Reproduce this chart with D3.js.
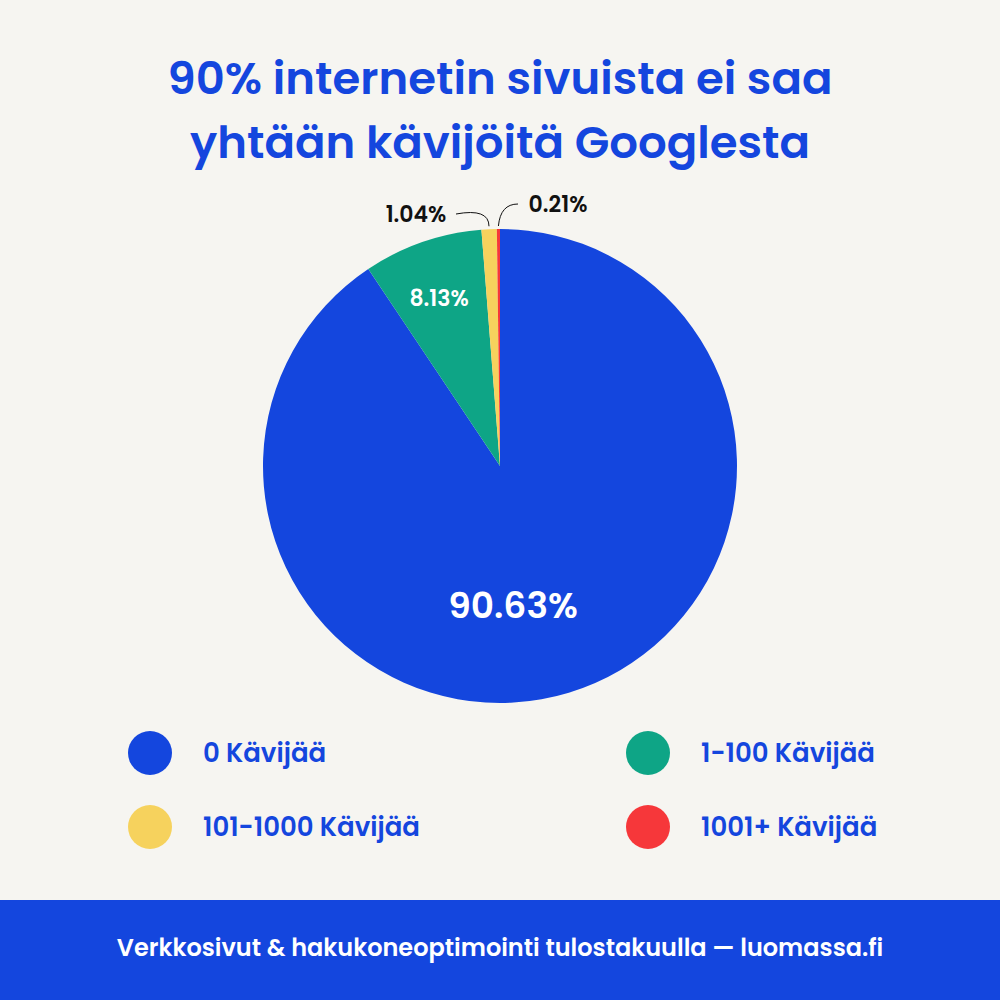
<!DOCTYPE html><html><head><meta charset="utf-8"><script src="https://d3js.org/d3.v7.min.js"></script>
<style>body{margin:0;background:#f6f5f1}</style></head><body><svg id="c" width="1000" height="1000"></svg>
<script>
const categories=["0 Kävijää","1-100 Kävijää","101-1000 Kävijää","1001+ Kävijää"];
const values=[90.63,8.13,1.04,0.21];
const labels=["90.63%","8.13%","1.04%","0.21%"];
const colors=["#1446de","#0ea586","#f6d25d","#f6373a"];
const svg=d3.select("#c");
const F="Poppins, Lato, 'Open Sans', sans-serif";
svg.append("rect").attr("width",1000).attr("height",1000).attr("fill","#f6f5f1");
svg.selectAll("text.t").data(["90% internetin sivuista ei saa","yhtään kävijöitä Googlesta"]).join("text")
 .attr("x",500).attr("y",(d,i)=>94+i*64).attr("text-anchor","middle").attr("font-family",F).attr("font-weight",600)
 .attr("font-size",45).attr("fill","#1446de").text(d=>d);
const cx=500,cy=466,R=237;
const pie=d3.pie().sort(null)(values);
const arc=d3.arc().innerRadius(0).outerRadius(R);
const g=svg.append("g").attr("transform",`translate(${cx},${cy})`);
g.selectAll("path").data(pie).join("path").attr("d",arc).attr("fill",(d,i)=>colors[i]);
g.append("text").attr("x",13).attr("y",152).attr("text-anchor","middle").attr("font-family",F).attr("font-weight",600).attr("font-size",36).attr("fill","#fff").text(labels[0]);
g.append("text").attr("x",-61).attr("y",-160).attr("text-anchor","middle").attr("font-family",F).attr("font-weight",600).attr("font-size",22).attr("fill","#fff").text(labels[1]);
svg.append("text").attr("x",416).attr("y",222).attr("text-anchor","middle").attr("font-family",F).attr("font-weight",600).attr("font-size",22).attr("fill","#111").text(labels[2]);
svg.append("text").attr("x",558).attr("y",212).attr("text-anchor","middle").attr("font-family",F).attr("font-weight",600).attr("font-size",22).attr("fill","#111").text(labels[3]);
const pt=(d)=>{const a=(d.startAngle+d.endAngle)/2;return [cx+Math.sin(a)*(R+3),cy-Math.cos(a)*(R+3)];};
const py=pt(pie[2]), pr=pt(pie[3]);
svg.append("path").attr("d",`M456,214 Q${py[0]},208 ${py[0]},${py[1]}`).attr("fill","none").attr("stroke","#111").attr("stroke-width",1);
svg.append("path").attr("d",`M518,204 Q${pr[0]+2},204 ${pr[0]},${pr[1]}`).attr("fill","none").attr("stroke","#111").attr("stroke-width",1);
const lp=[[150,753],[648,753],[150,827],[648,827]];
const lg=svg.selectAll("g.l").data(categories).join("g").attr("transform",(d,i)=>`translate(${lp[i][0]},${lp[i][1]})`);
lg.append("circle").attr("r",22).attr("fill",(d,i)=>colors[i]);
lg.append("text").attr("x",53).attr("y",9).attr("font-family",F).attr("font-weight",600).attr("font-size",26).attr("fill","#1446de").text(d=>d);
svg.append("rect").attr("y",900).attr("width",1000).attr("height",100).attr("fill","#1446de");
svg.append("text").attr("x",500).attr("y",956).attr("text-anchor","middle").attr("font-family",F).attr("font-weight",600).attr("font-size",24).attr("fill","#fff").text("Verkkosivut & hakukoneoptimointi tulostakuulla — luomassa.fi");
</script></body></html>
